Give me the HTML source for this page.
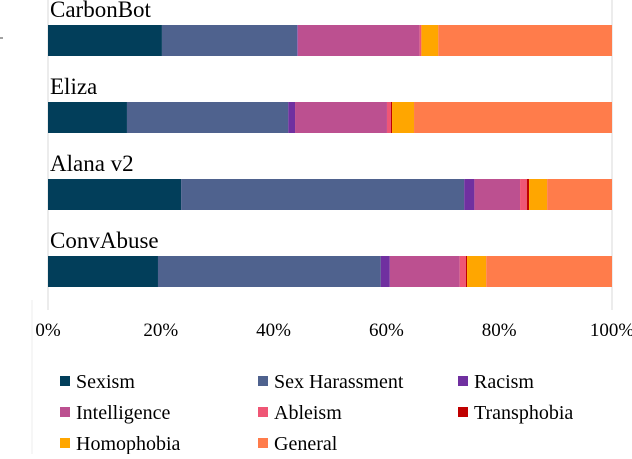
<!DOCTYPE html>
<html><head><meta charset="utf-8"><style>
body{margin:0;background:#fff;width:632px;height:454px;overflow:hidden;font-family:"Liberation Serif","Times New Roman","DejaVu Serif",serif;}
svg text{font-family:"Liberation Serif","Times New Roman","DejaVu Serif",serif;fill:#000;}
</style></head><body>
<svg id="chart" width="632" height="454" xmlns="http://www.w3.org/2000/svg" font-family="Liberation Serif, Times New Roman, DejaVu Serif, serif">
<line x1="48" y1="0" x2="48" y2="310" stroke="#d9d9d9" stroke-width="1"/>
<line x1="612" y1="0" x2="612" y2="310" stroke="#d9d9d9" stroke-width="1"/>
<line x1="32" y1="300" x2="32" y2="454" stroke="#eeeeee" stroke-width="1"/>
<line x1="0" y1="38" x2="3" y2="38" stroke="#444" stroke-width="1"/>
<g id="bars"></g><g id="ticks"></g><g id="legend"></g>
</svg>
<script>
const categories = ["CarbonBot","Eliza","Alana v2","ConvAbuse"];
const seriesNames = ["Sexism","Sex Harassment","Racism","Intelligence","Ableism","Transphobia","Homophobia","General"];
const sexism = [20.2,14.0,23.6,19.5];
const sexHarassment = [24.0,28.6,50.2,39.5];
const racism = [0.1,1.2,1.8,1.6];
const intelligence = [21.6,16.3,8.1,12.4];
const ableism = [0.3,0.7,1.2,1.1];
const transphobia = [0.0,0.2,0.4,0.2];
const homophobia = [3.0,3.9,3.2,3.4];
const general = [30.8,35.1,11.5,22.3];
const tickLabels = ["0%","20%","40%","60%","80%","100%"];
const tickValues = [0,20,40,60,80,100];
const colors = ["#023e5a","#4f628e","#7030a0","#bc5090","#ef5675","#c00000","#ffa600","#ff7c4b"];
const series=[sexism,sexHarassment,racism,intelligence,ableism,transphobia,homophobia,general];
const NS="http://www.w3.org/2000/svg";
const FONT="Liberation Serif, Times New Roman, DejaVu Serif, serif";
const x0=48,x1=612;
function xs(v){return x0+(x1-x0)*v/100;}
const bandTop=25, bandStep=77, barH=31;
function yBar(i){return bandTop+bandStep*i;}
const gb=document.getElementById('bars');
categories.forEach((c,i)=>{
  const total=series.reduce((a,s)=>a+s[i],0);
  let acc=0;
  series.forEach((s,k)=>{
    const v=s[i]/total*100;
    const r=document.createElementNS(NS,'rect');
    r.setAttribute('x',xs(acc));r.setAttribute('width',Math.max(0,xs(acc+v)-xs(acc)));
    r.setAttribute('y',yBar(i));r.setAttribute('height',barH);r.setAttribute('fill',colors[k]);
    
    
    gb.appendChild(r);acc+=v;
  });
  const t=document.createElementNS(NS,'text');
  t.setAttribute('x',50);t.setAttribute('y',yBar(i)-8);t.setAttribute('font-size','23');t.setAttribute('font-family',FONT);
  t.textContent=c;
  
  
  gb.appendChild(t);
});
const gt=document.getElementById('ticks');
tickValues.forEach((v,i)=>{
  const t=document.createElementNS(NS,'text');
  t.setAttribute('x',xs(v));t.setAttribute('y',336);t.setAttribute('font-size','19');t.setAttribute('text-anchor','middle');t.setAttribute('font-family',FONT);
  t.textContent=tickLabels[i];
  
  
  gt.appendChild(t);
});
const gl=document.getElementById('legend');
const colX=[60,258,458],rowY=[381,412,443];
seriesNames.forEach((n,k)=>{
  const cx=colX[k%3],cy=rowY[Math.floor(k/3)];
  const g=document.createElementNS(NS,'g');
  
  
  const r=document.createElementNS(NS,'rect');
  r.setAttribute('x',cx);r.setAttribute('y',cy-5);r.setAttribute('width',10);r.setAttribute('height',10);r.setAttribute('fill',colors[k]);
  const t=document.createElementNS(NS,'text');
  t.setAttribute('x',cx+16);t.setAttribute('y',cy+7);t.setAttribute('font-size','20');t.setAttribute('font-family',FONT);
  t.textContent=n;
  g.appendChild(r);g.appendChild(t);gl.appendChild(g);
});
</script>
</body></html>
